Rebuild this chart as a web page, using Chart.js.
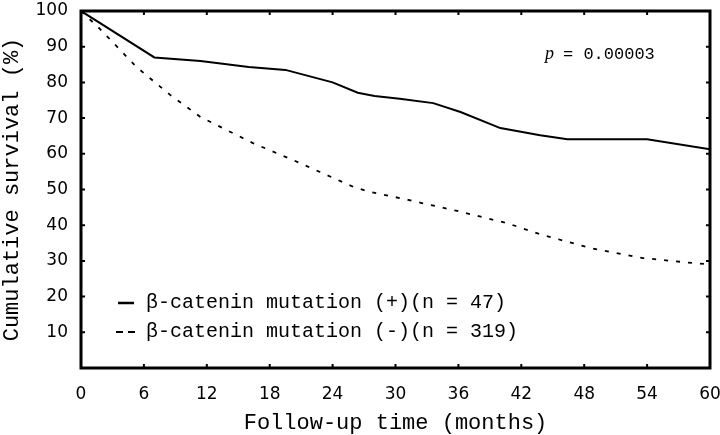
<!DOCTYPE html>
<html>
<head>
<meta charset="utf-8">
<script src="https://cdn.jsdelivr.net/npm/chart.js@4/dist/chart.umd.min.js"></script>
<style>
  html, body { margin: 0; padding: 0; background: #fff; }
  #wrap { width: 720px; height: 435px; }
</style>
</head>
<body>
<div id="wrap"><canvas id="km"></canvas></div>
<script>
// survival curves (months, %)
const posMonths = [0, 7, 11.4, 16, 19.5, 24, 26.4, 28, 30.4, 33.6, 36.2, 40, 43.8, 46.4, 54, 60];
const posSurvival = [100, 87, 86, 84.3, 83.5, 80, 77.1, 76.2, 75.4, 74.2, 71.7, 67.2, 65.2, 64.1, 64.1, 61.3];

const negMonths = [0, 1.8, 5.3, 8.5, 11.4, 16.4, 20.9, 22.8, 26, 27.6, 30.9, 32.5, 35.9, 40.6, 44, 48.6, 53.6, 58.4, 60];
const negSurvival = [100, 95, 84.3, 76.5, 70.3, 63, 57.4, 54.9, 50.7, 49.3, 47.3, 46.2, 44, 40.6, 37.3, 33.6, 30.8, 29.4, 29];

const xTicks = [0, 6, 12, 18, 24, 30, 36, 42, 48, 54, 60];
const yTicks = [10, 20, 30, 40, 50, 60, 70, 80, 90, 100];

const legendLabels = ["\u03b2-catenin mutation (+)(n = 47)", "\u03b2-catenin mutation (-)(n = 319)"];
const pText = "= 0.00003";

const toPoints = (xs, ys) => xs.map((x, i) => ({ x: x, y: ys[i] }));

// frame, inward ticks, legend and p value
const decorations = {
  id: "decorations",
  afterDraw(chart) {
    const ctx = chart.ctx;
    const a = chart.chartArea;
    const xs = chart.scales.x, ys = chart.scales.y;
    ctx.save();
    ctx.strokeStyle = "#000";
    ctx.lineWidth = 3;
    ctx.strokeRect(a.left, a.top, a.right - a.left, a.bottom - a.top);

    ctx.lineWidth = 2;
    xTicks.forEach(t => {
      const px = xs.getPixelForValue(t);
      ctx.beginPath();
      ctx.moveTo(px, a.top); ctx.lineTo(px, a.top + 4);
      ctx.moveTo(px, a.bottom); ctx.lineTo(px, a.bottom - 4);
      ctx.stroke();
    });
    yTicks.forEach(t => {
      const py = ys.getPixelForValue(t);
      ctx.beginPath();
      ctx.moveTo(a.left, py); ctx.lineTo(a.left + 4, py);
      ctx.moveTo(a.right, py); ctx.lineTo(a.right - 4, py);
      ctx.stroke();
    });

    // legend
    const lx = a.left + 36, ly1 = a.top + 292, ly2 = a.top + 321;
    ctx.lineWidth = 2.5;
    ctx.beginPath();
    ctx.moveTo(lx + 1, ly1); ctx.lineTo(lx + 17, ly1);
    ctx.stroke();
    ctx.lineWidth = 2;
    ctx.beginPath();
    ctx.moveTo(lx - 1, ly2); ctx.lineTo(lx + 6, ly2);
    ctx.moveTo(lx + 11, ly2); ctx.lineTo(lx + 18, ly2);
    ctx.stroke();
    ctx.fillStyle = "#000";
    ctx.font = "20px 'Liberation Mono'";
    ctx.textBaseline = "middle";
    ctx.fillText(legendLabels[0], lx + 29, ly1);
    ctx.fillText(legendLabels[1], lx + 29, ly2);

    // p value
    ctx.font = "italic 18px 'Liberation Serif'";
    ctx.fillText("p", a.left + 464, a.top + 43);
    ctx.font = "17px 'Liberation Mono'";
    ctx.fillText(pText, a.left + 482, a.top + 43);
    ctx.restore();
  }
};

new Chart(document.getElementById("km"), {
  type: "line",
  data: {
    datasets: [
      {
        label: legendLabels[0],
        data: toPoints(posMonths, posSurvival),
        borderColor: "#000",
        borderWidth: 2,
        pointRadius: 0,
        tension: 0,
        fill: false
      },
      {
        label: legendLabels[1],
        data: toPoints(negMonths, negSurvival),
        borderColor: "#000",
        borderWidth: 1.8,
        borderDash: [4, 8],
        pointRadius: 0,
        tension: 0,
        fill: false
      }
    ]
  },
  options: {
    responsive: true,
    maintainAspectRatio: false,
    animation: false,
    layout: { padding: { top: 11, right: 10, left: 0, bottom: 0 } },
    plugins: { legend: { display: false }, tooltip: { enabled: false } },
    scales: {
      x: {
        type: "linear",
        min: 0,
        max: 60,
        afterBuildTicks: s => { s.ticks = xTicks.map(v => ({ value: v })); },
        afterFit: s => { s.height = 67; s.paddingLeft = 0; s.paddingRight = 0; },
        grid: { display: false },
        border: { display: false },
        ticks: { color: "#000", padding: 8, font: { family: "DejaVu Sans", size: 17 } },
        title: {
          display: true,
          text: "Follow-up time (months)",
          color: "#000",
          font: { family: "Liberation Mono", size: 22, lineHeight: 1 },
          padding: { top: 0, bottom: 1 }
        }
      },
      y: {
        min: 0,
        max: 100,
        afterBuildTicks: s => { s.ticks = yTicks.map(v => ({ value: v })); },
        afterFit: s => { s.width = 81; s.paddingTop = 0; s.paddingBottom = 0; },
        grid: { display: false },
        border: { display: false },
        ticks: { color: "#000", padding: 5, font: { family: "DejaVu Sans", size: 17 } },
        title: {
          display: true,
          text: "Cumulative survival (%)",
          color: "#000",
          font: { family: "Liberation Mono", size: 22, lineHeight: 1 },
          padding: { top: 1, bottom: 0 }
        }
      }
    }
  },
  plugins: [decorations]
});
</script>
</body>
</html>
